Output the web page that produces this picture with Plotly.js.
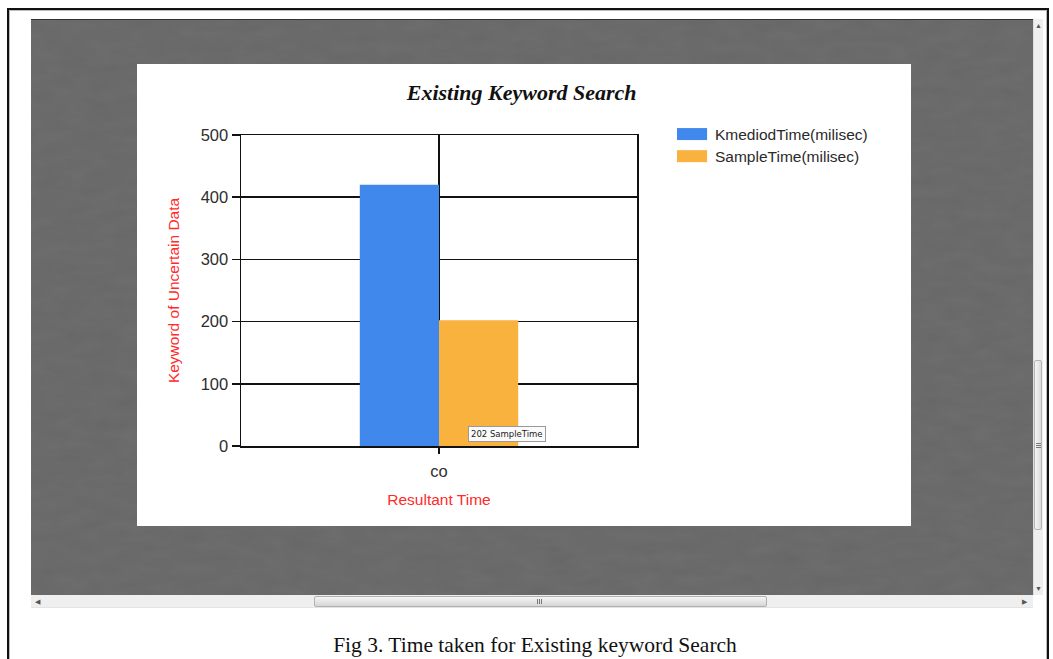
<!DOCTYPE html>
<html>
<head>
<meta charset="utf-8">
<script src="https://cdn.plot.ly/plotly-3.0.1.min.js"></script>
<style>
  html, body { margin:0; padding:0; background:#fff; width:1053px; height:659px; overflow:hidden; font-family:"Liberation Sans", Arial, sans-serif; }
  #frame { position:absolute; left:7px; top:8px; width:1042px; height:700px; border-left:2px solid #111; border-top:2px solid #111; border-right:2px solid #111; box-sizing:border-box; }
  #frame2 { position:absolute; left:9px; top:10px; width:1038px; height:700px; border-left:1px solid #bbb; border-top:1px solid #bbb; border-right:1px solid #bbb; box-sizing:border-box; }
  #gray { position:absolute; left:31px; top:19px; width:1002px; height:576px; background-color:#676767; border-top:1px solid #333; box-sizing:border-box; overflow:hidden; }
  #gray svg { position:absolute; left:0; top:0; }
  #vscroll { position:absolute; left:1033px; top:19px; width:10px; height:576px; background:#efefef; border-left:1px solid #ddd; box-sizing:border-box; }
  #vthumb { position:absolute; left:1034px; top:360px; width:8px; height:170px; background:linear-gradient(to right,#f4f4f4,#dcdcdc); border:1px solid #b5b5b5; border-radius:2px; box-sizing:border-box; }
  #hscroll { position:absolute; left:31px; top:595px; width:1002px; height:13px; background:#efefef; border-bottom:1px solid #e4e4e4; box-sizing:border-box; }
  #hthumb { position:absolute; left:314px; top:596px; width:453px; height:11px; background:linear-gradient(to bottom,#f5f5f5,#d6d6d6); border:1px solid #b0b0b0; border-radius:2px; box-sizing:border-box; }
  .grip { position:absolute; background:#777; }
  .arrow { position:absolute; font-size:7px; color:#555; line-height:7px; }
  #panel { position:absolute; left:137px; top:64px; width:774px; height:462px; background:#fff; }
  #chart { width:774px; height:462px; }
  #caption { position:absolute; left:0; width:1070px; top:633px; text-align:center; font-family:"Liberation Serif","Times New Roman",serif; font-size:21.5px; color:#111; white-space:nowrap; }
</style>
</head>
<body>
<div id="frame"></div>
<div id="frame2"></div>
<div id="gray">
  <svg width="1002" height="576" xmlns="http://www.w3.org/2000/svg">
    <filter id="tex" x="0" y="0" width="100%" height="100%">
      <feTurbulence type="fractalNoise" baseFrequency="0.035 0.09" numOctaves="3" seed="7" result="n"/>
      <feColorMatrix type="matrix" values="0 0 0 0 0.40  0 0 0 0 0.40  0 0 0 0 0.40  0 0 0 0.22 0" />
    </filter>
    <rect width="1002" height="576" fill="#676767"/>
    <rect width="1002" height="576" filter="url(#tex)" opacity="0.5"/>
  </svg>
</div>
<div id="vscroll"></div>
<div class="arrow" style="left:1035px;top:22px;">&#9650;</div>
<div class="arrow" style="left:1035px;top:585px;">&#9660;</div>
<div id="vthumb"></div>
<div class="grip" style="left:1036px;top:443px;width:5px;height:1px;"></div>
<div class="grip" style="left:1036px;top:445px;width:5px;height:1px;"></div>
<div class="grip" style="left:1036px;top:447px;width:5px;height:1px;"></div>
<div id="hscroll"></div>
<div class="arrow" style="left:35px;top:598px;">&#9664;</div>
<div class="arrow" style="left:1022px;top:598px;">&#9654;</div>
<div id="hthumb"></div>
<div class="grip" style="left:537px;top:599px;width:1px;height:5px;"></div>
<div class="grip" style="left:539px;top:599px;width:1px;height:5px;"></div>
<div class="grip" style="left:541px;top:599px;width:1px;height:5px;"></div>
<div id="panel"><div id="chart"></div></div>
<div id="caption">Fig 3. Time taken for Existing keyword Search</div>

<script>
// ---- data ----
var categories = ["co"];
var seriesNames = ["KmediodTime(milisec)", "SampleTime(milisec)"];
var kmediodTime = [420];
var sampleTime = [202];
var seriesColors = ["#4088eb", "#fab23f"];
var yTickVals = [0, 100, 200, 300, 400, 500];
var tooltipLabel = "SampleTime";

var seriesValues = [kmediodTime, sampleTime];
var traces = seriesNames.map(function (name, i) {
  return {
    type: "bar",
    name: name,
    x: categories,
    y: seriesValues[i],
    marker: { color: seriesColors[i], line: { width: 0 } },
    hoverinfo: "skip"
  };
});

// custom legend (wide swatches like the original)
var shapes = [];
var annotations = [];
var legX0 = 1.101, legX1 = 1.177, legTextX = 1.192;
var legY = [1.003, 0.932], swH = 0.0193;
seriesNames.forEach(function (name, i) {
  shapes.push({
    type: "rect", xref: "paper", yref: "paper",
    x0: legX0, x1: legX1, y0: legY[i] - swH, y1: legY[i] + swH,
    fillcolor: seriesColors[i], line: { width: 0 }
  });
  annotations.push({
    xref: "paper", yref: "paper", x: legTextX, y: legY[i],
    xanchor: "left", yanchor: "middle", showarrow: false,
    text: name, font: { family: "Liberation Sans, Arial, sans-serif", size: 15.5, color: "#2a2a2a" }
  });
});

// tooltip box
annotations.push({
  xref: "paper", yref: "paper", x: 0.672, y: 0.040,
  xanchor: "center", yanchor: "middle", showarrow: false,
  text: sampleTime[0] + " " + tooltipLabel,
  font: { family: "DejaVu Sans, sans-serif", size: 8.5, color: "#222" },
  bgcolor: "#fbfbfb", bordercolor: "#9a9a9a", borderwidth: 1, borderpad: 2
});

var axisFont = { family: "Liberation Sans, Arial, sans-serif", size: 16.5, color: "#2e2e2e" };
var titleFont = { family: "Liberation Sans, Arial, sans-serif", size: 15.5, color: "#ff2a2a" };

var layout = {
  width: 774, height: 462,
  margin: { l: 104, r: 274, t: 71, b: 80 },
  paper_bgcolor: "#ffffff",
  plot_bgcolor: "#ffffff",
  showlegend: false,
  barmode: "group",
  bargap: 0.6,
  bargroupgap: 0,
  title: {
    text: "Existing Keyword Search",
    xref: "container", yref: "container",
    x: 0.497, y: 1 - 28 / 462, xanchor: "center", yanchor: "middle",
    font: { family: "Liberation Serif, Times New Roman, serif", size: 22, weight: "bold", style: "italic", color: "#111" }
  },
  xaxis: {
    type: "category",
    range: [-0.5, 0.5],
    showline: true, linecolor: "#111", linewidth: 1.5, mirror: true,
    showgrid: true, gridcolor: "#111", gridwidth: 1.5,
    ticks: "outside", ticklen: 6, tickcolor: "#111", tickwidth: 1.5,
    ticklabelstandoff: 4,
    tickfont: axisFont,
    title: { text: "Resultant Time", font: titleFont, standoff: 15 },
    fixedrange: true
  },
  yaxis: {
    range: [0, 500],
    tickvals: yTickVals,
    showline: true, linecolor: "#111", linewidth: 1.5, mirror: true,
    showgrid: true, gridcolor: "#111", gridwidth: 1.5,
    zeroline: false,
    ticks: "outside", ticklen: 8, tickcolor: "#111", tickwidth: 1.5,
    tickfont: axisFont,
    title: { text: "Keyword of Uncertain Data", font: titleFont, standoff: 17 },
    fixedrange: true
  },
  shapes: shapes,
  annotations: annotations
};

Plotly.newPlot("chart", traces, layout, { displayModeBar: false, staticPlot: true });
</script>
</body>
</html>
